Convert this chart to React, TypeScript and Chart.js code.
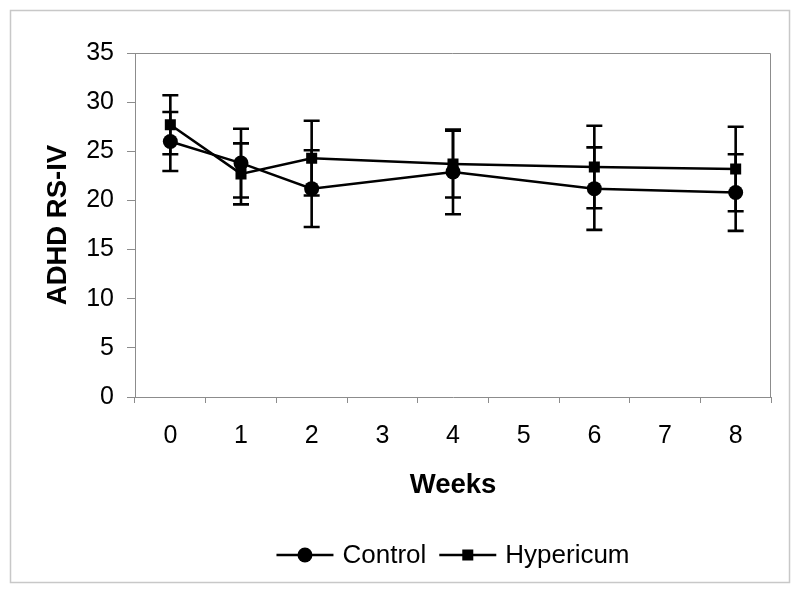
import React, { useEffect, useRef } from "react";
import { Chart, registerables } from "chart.js";

Chart.register(...registerables);

// ---- Data ----
const weeks = ["0", "1", "2", "3", "4", "5", "6", "7", "8"];
const controlMean = [26.0, 23.8, 21.2, null, 22.9, null, 21.2, null, 20.8];
const controlErr = [3.0, 3.5, 3.9, null, 4.3, null, 4.2, null, 3.9];
const hypericumMean = [27.7, 22.7, 24.3, null, 23.7, null, 23.4, null, 23.2];
const hypericumErr = [3.0, 3.1, 3.8, null, 3.4, null, 4.2, null, 4.3];
const seriesNames = ["Control", "Hypericum"];
const seriesMarkers = ["circle", "rect"];
const yMin = 0;
const yMax = 35;
const yStep = 5;
const xTitle = "Weeks";
const yTitle = "ADHD RS-IV";

const FONT = "'Liberation Sans', Arial, sans-serif";
const AXIS_GRAY = "#8c8c8c";

const framePlugin = {
  id: "frame",
  beforeDraw(chart: any) {
    const { ctx } = chart;
    ctx.save();
    ctx.fillStyle = "#fff";
    ctx.fillRect(0, 0, chart.width, chart.height);
    ctx.strokeStyle = "#c8c8c8";
    ctx.lineWidth = 1.5;
    ctx.strokeRect(10.5, 10.5, 779, 572);
    ctx.restore();
  },
  beforeDatasetsDraw(chart: any) {
    const { ctx, chartArea } = chart;
    ctx.save();
    ctx.strokeStyle = AXIS_GRAY;
    ctx.lineWidth = 1;
    ctx.beginPath();
    ctx.moveTo(chartArea.left, chartArea.top + 0.5);
    ctx.lineTo(chartArea.right - 0.5, chartArea.top + 0.5);
    ctx.lineTo(chartArea.right - 0.5, chartArea.bottom);
    ctx.stroke();
    ctx.restore();
  },
};

const errorBarPlugin = {
  id: "errorBars",
  afterDatasetsDraw(chart: any) {
    const { ctx } = chart;
    const yScale = chart.scales.y;
    chart.data.datasets.forEach((ds: any, i: number) => {
      const meta = chart.getDatasetMeta(i);
      meta.data.forEach((pt: any, j: number) => {
        const v = ds.data[j];
        const e = ds.errors ? ds.errors[j] : null;
        if (v == null || e == null) return;
        const x = pt.x;
        const yTop = yScale.getPixelForValue(v + e);
        const yBot = yScale.getPixelForValue(v - e);
        ctx.save();
        ctx.strokeStyle = "#000";
        ctx.lineWidth = 2.6;
        ctx.beginPath();
        ctx.moveTo(x, yTop);
        ctx.lineTo(x, yBot);
        ctx.moveTo(x - 8, yTop);
        ctx.lineTo(x + 8, yTop);
        ctx.moveTo(x - 8, yBot);
        ctx.lineTo(x + 8, yBot);
        ctx.stroke();
        ctx.restore();
      });
    });
  },
};

const legendPlugin = {
  id: "customLegend",
  afterDraw(chart: any) {
    const { ctx, chartArea } = chart;
    const lineLen = 57;
    const gapText = 9;
    const gapItem = 13;
    const y = 555;
    ctx.save();
    ctx.font = `26px ${FONT}`;
    ctx.textBaseline = "middle";
    ctx.textAlign = "left";
    const items = chart.data.datasets.map((ds: any) => ({
      label: ds.label,
      style: ds.pointStyle,
      w: lineLen + gapText + ctx.measureText(ds.label).width,
    }));
    const total = items.reduce((s: number, it: any) => s + it.w, 0) + gapItem * (items.length - 1);
    let x = (chartArea.left + chartArea.right) / 2 - total / 2;
    items.forEach((it: any) => {
      ctx.strokeStyle = "#000";
      ctx.lineWidth = 2.5;
      ctx.beginPath();
      ctx.moveTo(x, y);
      ctx.lineTo(x + lineLen, y);
      ctx.stroke();
      const cx = x + lineLen / 2;
      ctx.fillStyle = "#000";
      if (it.style === "circle") {
        ctx.beginPath();
        ctx.arc(cx, y, 7.5, 0, Math.PI * 2);
        ctx.fill();
      } else {
        ctx.fillRect(cx - 5.5, y - 5.5, 11, 11);
      }
      ctx.fillStyle = "#000";
      ctx.fillText(it.label, x + lineLen + gapText, y + 1);
      x += it.w + gapItem;
    });
    ctx.restore();
  },
};

export default function App() {
  const canvasRef = useRef<HTMLCanvasElement | null>(null);

  useEffect(() => {
    if (!canvasRef.current) return;
    const chart = new Chart(canvasRef.current, {
      type: "line",
      data: {
        labels: weeks,
        datasets: [
          {
            label: seriesNames[0],
            data: controlMean,
            errors: controlErr,
            borderColor: "#000",
            backgroundColor: "#000",
            borderWidth: 2.5,
            pointStyle: seriesMarkers[0],
            pointRadius: 7.5,
            pointBorderWidth: 0,
            spanGaps: true,
          } as any,
          {
            label: seriesNames[1],
            data: hypericumMean,
            errors: hypericumErr,
            borderColor: "#000",
            backgroundColor: "#000",
            borderWidth: 2.5,
            pointStyle: seriesMarkers[1],
            pointRadius: 7.8,
            pointBorderWidth: 0,
            spanGaps: true,
          } as any,
        ],
      },
      options: {
        responsive: false,
        animation: false,
        devicePixelRatio: 1,
        layout: { padding: { left: 0, top: 53, right: 29, bottom: 87 } },
        plugins: {
          legend: { display: false },
          tooltip: { enabled: false },
        },
        scales: {
          x: {
            type: "category",
            offset: true,
            grid: {
              offset: true,
              drawOnChartArea: false,
              drawTicks: true,
              tickLength: 6,
              color: AXIS_GRAY,
            },
            border: { display: true, color: AXIS_GRAY, width: 1 },
            ticks: {
              color: "#000",
              font: { family: FONT, size: 25 },
              padding: 18,
              maxRotation: 0,
              autoSkip: false,
            },
            title: {
              display: true,
              text: xTitle,
              color: "#000",
              font: { family: FONT, size: 27.5, weight: "bold" },
              padding: { top: 0, bottom: 5.5 },
            },
            afterFit(scale: any) {
              scale.height = 110;
            },
          },
          y: {
            min: yMin,
            max: yMax,
            grid: {
              drawOnChartArea: false,
              drawTicks: true,
              tickLength: 8,
              color: AXIS_GRAY,
            },
            border: { display: true, color: AXIS_GRAY, width: 1 },
            ticks: {
              stepSize: yStep,
              color: "#000",
              font: { family: FONT, size: 25 },
              padding: 13,
            },
            title: {
              display: true,
              text: yTitle,
              color: "#000",
              font: { family: FONT, size: 27.5, weight: "bold" },
              padding: { top: 41.5, bottom: 0 },
            },
            afterFit(scale: any) {
              scale.width = 135;
            },
          },
        },
      } as any,
      plugins: [framePlugin, errorBarPlugin, legendPlugin],
    });
    return () => chart.destroy();
  }, []);

  return (
    <div style={{ position: "fixed", left: 0, top: 0, width: 800, height: 594, background: "#fff" }}>
      <canvas ref={canvasRef} width={800} height={594} style={{ display: "block" }} />
    </div>
  );
}
